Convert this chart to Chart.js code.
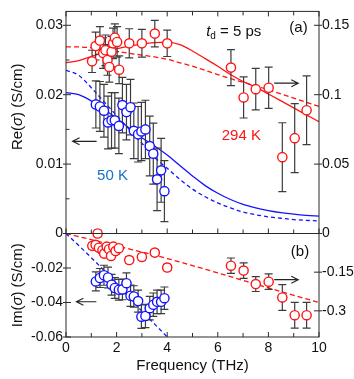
<!DOCTYPE html>
<html><head><meta charset="utf-8">
<script src="https://cdn.jsdelivr.net/npm/chart.js@4.4.0/dist/chart.umd.min.js"></script>
<style>
html,body{margin:0;padding:0;background:#fff;}
#wrap{position:relative;width:354px;height:379px;overflow:hidden;}
#wrap canvas{position:absolute;left:0;top:0;}
</style></head><body>
<div id="wrap"><canvas id="cTop" width="354" height="379"></canvas><canvas id="cBot" width="354" height="379"></canvas></div>
<script>
// ---------------- data ----------------
// (a) Re(sigma), 294 K  (right axis)
const fRe294   = [1.03,1.17,1.34,1.47,1.56,1.64,1.71,1.80,1.86,1.93,2.02,2.10,2.50,3.00,3.51,4.00,6.52,7.02,7.50,8.01,8.55,9.04,9.51];
const re294    = [0.124,0.135,0.139,0.130,0.132,0.125,0.120,0.131,0.137,0.141,0.138,0.118,0.137,0.137,0.144,0.137,0.1195,0.098,0.104,0.105,0.055,0.0687,0.0888];
const re294Err = [0.008,0.010,0.010,0.011,0.011,0.011,0.011,0.011,0.011,0.010,0.011,0.010,0.0105,0.010,0.0095,0.0095,0.013,0.0148,0.0149,0.0148,0.0248,0.0248,0.0248];
// (a) Re(sigma), 50 K (left axis)
const fRe50    = [1.18,1.34,1.50,1.66,1.80,1.93,2.09,2.23,2.39,2.55,2.68,2.85,2.98,3.14,3.31,3.45,3.60,3.76,3.89];
const re50     = [0.0186,0.0183,0.0177,0.0160,0.0163,0.0163,0.0155,0.0185,0.0175,0.0182,0.0148,0.0143,0.0147,0.0150,0.0126,0.0115,0.0078,0.0091,0.0061];
const re50Err  = [0.0034,0.0036,0.0038,0.0038,0.0040,0.0040,0.0040,0.0040,0.0040,0.0040,0.0040,0.0040,0.0042,0.0042,0.0043,0.0044,0.0045,0.0046,0.0044];
// (b) Im(sigma), 294 K (right axis)
const fIm294   = [1.04,1.17,1.25,1.30,1.44,1.51,1.61,1.70,1.78,1.87,1.96,2.09,2.50,3.00,3.51,4.00,6.52,7.02,7.50,8.01,8.55,9.04,9.51];
const im294    = [-0.048,-0.044,0.0,-0.055,-0.065,-0.078,-0.051,-0.061,-0.087,-0.051,-0.068,-0.057,-0.103,-0.091,-0.074,-0.132,-0.125,-0.144,-0.196,-0.187,-0.248,-0.317,-0.317];
const im294Err = [0.012,0.012,0.012,0.012,0.012,0.012,0.012,0.012,0.012,0.012,0.012,0.012,0.012,0.012,0.012,0.012,0.030,0.030,0.029,0.030,0.050,0.050,0.050];
// (b) Im(sigma), 50 K (left axis)
const fIm50    = [1.18,1.34,1.50,1.66,1.80,1.93,2.09,2.23,2.39,2.55,2.68,2.85,2.98,3.14,3.31,3.45,3.60,3.76,3.89];
const im50     = [-0.0278,-0.0258,-0.0242,-0.0255,-0.0297,-0.0316,-0.0326,-0.0324,-0.0288,-0.0361,-0.0365,-0.0392,-0.0482,-0.0478,-0.0433,-0.0413,-0.0396,-0.0396,-0.0375];
const im50Err  = [0.0055,0.0055,0.0058,0.0060,0.0060,0.0060,0.0060,0.0060,0.0060,0.0062,0.0062,0.0064,0.0068,0.0068,0.0068,0.0068,0.0068,0.0068,0.0065];
// model curves
const fCurve       = [0,0.5,1,1.5,2,2.5,3,3.5,4,4.5,5,5.5,6,6.5,7,7.5,8,8.5,9,9.5,10];
const re50Solid    = [0.0203,0.0200,0.0191,0.0179,0.0166,0.0152,0.0138,0.0126,0.0113,0.0098,0.0083,0.0069,0.0058,0.0049,0.0042,0.0037,0.0033,0.0030,0.0028,0.0026,0.0025];
const re50Dash     = [0.0235,0.0228,0.0210,0.0190,0.0170,0.0150,0.0130,0.0110,0.0094,0.0078,0.0064,0.0053,0.0044,0.0037,0.0031,0.0027,0.0024,0.0022,0.0020,0.0019,0.0018];
const re294Solid   = [0.123,0.1245,0.1275,0.1305,0.133,0.135,0.1365,0.1375,0.1378,0.136,0.1315,0.126,0.1205,0.1145,0.1095,0.1055,0.1005,0.0955,0.0905,0.0855,0.0805];
const re294Dash    = [0.1345,0.1344,0.1338,0.1327,0.1312,0.1298,0.1285,0.1272,0.1255,0.1230,0.1205,0.1175,0.1145,0.1115,0.1090,0.1063,0.1035,0.1005,0.0975,0.0945,0.0916];
const fImCurve     = [0,2,4,6,8,10];
const im294Dash    = [0,-0.048,-0.097,-0.153,-0.211,-0.268];
const fIm50Curve   = [0,1,2,3,4,4.5];
const im50Dash     = [0,-0.014,-0.029,-0.045,-0.060,-0.068];
// tick values / labels
const xTickValues    = [0,1,2,3,4,5,6,7,8,9,10];
const xTickLabels    = ['0','','2','','4','','6','','8','','10'];
const reLeftTicks    = [0,0.005,0.01,0.015,0.02,0.025,0.03];
const reLeftLabels   = ['','','0.01','','0.02','','0.03'];
const reRightTicks   = [0,0.05,0.1,0.15];
const reRightLabels  = ['','0.05','0.1','0.15'];
const imLeftTicks    = [-0.06,-0.04,-0.02,0];
const imLeftLabels   = ['-0.06','-0.04','-0.02','0'];
const imRightTicks   = [-0.3,-0.15,0];
const imRightLabels  = ['-0.3','-0.15','0'];

// ---------------- styles ----------------
const FONT = '"Liberation Sans", Arial, Helvetica, sans-serif';
const RED = '#ff1414', BLUE = '#1414ff', LBLUE = '#1870c8', BAR = '#3c3c3c', AXIS = '#2a2a2a', TXT = '#111';

function pts(xs, ys){ return xs.map((x,i)=>({x:x, y:ys[i]})); }

const errorBarPlugin = {
  id:'errbars',
  beforeDatasetDraw(chart, args){
    const ds = chart.data.datasets[args.index];
    if(!ds.errors) return;
    const ctx = chart.ctx, xs = chart.scales.x, ys = chart.scales[ds.yAxisID];
    ctx.save(); ctx.strokeStyle = BAR; ctx.lineWidth = 1.2;
    ds.data.forEach((p,i)=>{
      const e = ds.errors[i];
      const px = xs.getPixelForValue(p.x);
      const y1 = ys.getPixelForValue(p.y+e), y2 = ys.getPixelForValue(p.y-e);
      ctx.beginPath();
      ctx.moveTo(px,y1); ctx.lineTo(px,y2);
      ctx.moveTo(px-4,y1); ctx.lineTo(px+4,y1);
      ctx.moveTo(px-4,y2); ctx.lineTo(px+4,y2);
      ctx.stroke();
    });
    ctx.restore();
  }
};

function drawRich(ctx, parts, x, y, align){
  let w = 0;
  parts.forEach(p=>{ ctx.font = (p.italic?'italic ':'') + p.size + 'px ' + FONT; p.w = ctx.measureText(p.t).width; w += p.w; });
  let cx = align==='center' ? x - w/2 : x;
  parts.forEach(p=>{ ctx.font = (p.italic?'italic ':'') + p.size + 'px ' + FONT; ctx.fillText(p.t, cx, y + (p.dy||0)); cx += p.w; });
}
function arrow(ctx, x1, x2, y, headAtLeft){
  ctx.save(); ctx.strokeStyle = '#222'; ctx.lineWidth = 1.1;
  ctx.beginPath(); ctx.moveTo(x1,y); ctx.lineTo(x2,y);
  const hx = headAtLeft ? Math.min(x1,x2) : Math.max(x1,x2);
  const d = headAtLeft ? 7 : -7;
  ctx.moveTo(hx+d, y-3.5); ctx.lineTo(hx, y); ctx.lineTo(hx+d, y+3.5);
  ctx.stroke(); ctx.restore();
}

function framePlugin(opt){
  return { id:'frame', afterDraw(chart){
    const ctx = chart.ctx, a = chart.chartArea, x = chart.scales.x, yl = chart.scales.yL, yr = chart.scales.yR;
    ctx.save(); ctx.strokeStyle = AXIS; ctx.lineWidth = 1;
    ctx.strokeRect(a.left, a.top, a.right-a.left, a.bottom-a.top);
    ctx.beginPath();
    xTickValues.forEach((v,i)=>{
      const px = x.getPixelForValue(v); const L = xTickLabels[i] ? 5 : 4;
      if(opt.xTop){ ctx.moveTo(px,a.top); ctx.lineTo(px,a.top+L); }
      ctx.moveTo(px,a.bottom); ctx.lineTo(px,a.bottom-L);
    });
    opt.lTicks.forEach((v,i)=>{
      const py = yl.getPixelForValue(v); const major = opt.lLabels[i] !== '' || v===0;
      ctx.moveTo(a.left-(major?3:0),py); ctx.lineTo(a.left+(major?5:3.5),py);
    });
    opt.rTicks.forEach((v)=>{
      const py = yr.getPixelForValue(v);
      ctx.moveTo(a.right-5,py); ctx.lineTo(a.right+3,py);
    });
    ctx.stroke(); ctx.restore();
    opt.annotate(chart, ctx);
  }};
}

function yScale(pos, min, max, ticks, labels, width, show0){
  return {
    type:'linear', position:pos, min:min, max:max,
    grid:{display:false, drawTicks:false}, border:{display:false},
    afterBuildTicks(s){ s.ticks = ticks.map(v=>({value:v})); },
    afterFit(s){ s.width = width; },
    ticks:{ autoSkip:false, padding:3, color:TXT, font:{family:FONT, size:14},
      callback:(v,i)=> labels[i] }
  };
}

const scatterDs = (xs, ys, errs, color, axis, extra) => Object.assign({
  type:'scatter', data:pts(xs,ys), errors:errs, yAxisID:axis,
  pointRadius:4.6, pointHoverRadius:4.6, pointBorderWidth:1.4,
  borderColor:color, backgroundColor:'#fff', pointBackgroundColor:'#fff', order:1
}, extra||{});
const lineDs = (xs, ys, color, axis, dash) => ({
  type:'scatter', data:pts(xs,ys), yAxisID:axis, showLine:true, pointRadius:0,
  borderColor:color, borderWidth:1.3, borderDash:dash||[], cubicInterpolationMode:'monotone', order:2
});

const common = {
  responsive:false, animation:false, events:[],
  plugins:{legend:{display:false}, tooltip:{enabled:false}}
};

// ---------------- top chart (a) ----------------
new Chart(document.getElementById('cTop'), {
  type:'scatter',
  data:{ datasets:[
    lineDs(fCurve, re50Solid, BLUE, 'yL'),
    lineDs(fCurve, re50Dash, BLUE, 'yL', [4,3]),
    lineDs(fCurve, re294Solid, RED, 'yR'),
    lineDs(fCurve, re294Dash, RED, 'yR', [5,3]),
    scatterDs(fRe50, re50, re50Err, BLUE, 'yL'),
    scatterDs(fRe294, re294, re294Err, RED, 'yR')
  ]},
  options: Object.assign({}, common, {
    layout:{padding:{left:0,right:0,top:8,bottom:145.5}},
    scales:{
      x:{type:'linear', min:0, max:10, display:false},
      yL: yScale('left', 0, 0.0320, reLeftTicks, reLeftLabels, 66),
      yR: yScale('right', 0, 0.160, reRightTicks, reRightLabels, 35)
    }
  }),
  plugins:[errorBarPlugin, framePlugin({xTop:true, lTicks:reLeftTicks, lLabels:reLeftLabels, rTicks:reRightTicks,
    annotate(chart, ctx){
      const x = chart.scales.x, yl = chart.scales.yL, yr = chart.scales.yR, a = chart.chartArea;
      ctx.save(); ctx.textBaseline = 'middle'; ctx.fillStyle = TXT;
      drawRich(ctx, [{t:'t', italic:true, size:15},{t:'d', size:10, dy:4},{t:' = 5 ps', size:15}], x.getPixelForValue(5.54), yl.getPixelForValue(0.0290), 'left');
      drawRich(ctx, [{t:'(a)', size:15}], x.getPixelForValue(9.19), yl.getPixelForValue(0.0296), 'center');
      ctx.fillStyle = RED;
      drawRich(ctx, [{t:'294 K', size:15}], x.getPixelForValue(6.93), yr.getPixelForValue(0.070), 'center');
      ctx.fillStyle = LBLUE;
      drawRich(ctx, [{t:'50 K', size:15}], x.getPixelForValue(1.84), yl.getPixelForValue(0.0083), 'center');
      arrow(ctx, x.getPixelForValue(0.26), x.getPixelForValue(1.21), yl.getPixelForValue(0.01328), true);
      arrow(ctx, x.getPixelForValue(8.23), x.getPixelForValue(9.18), yr.getPixelForValue(0.1083), false);
      ctx.fillStyle = TXT;
      ctx.translate(a.left-48, yl.getPixelForValue(0.01825)); ctx.rotate(-Math.PI/2);
      drawRich(ctx, [{t:'Re(', size:15},{t:'σ', italic:true, size:15},{t:') (S/cm)', size:15}], 0, 0, 'center');
      ctx.restore();
    }})]
});

// ---------------- bottom chart (b) ----------------
new Chart(document.getElementById('cBot'), {
  type:'scatter',
  data:{ datasets:[
    lineDs(fIm50Curve, im50Dash, BLUE, 'yL', [4,3]),
    lineDs(fImCurve, im294Dash, RED, 'yR', [5,3]),
    scatterDs(fIm50, im50, im50Err, BLUE, 'yL'),
    scatterDs(fIm294, im294, im294Err, RED, 'yR', {clip:false})
  ]},
  options: Object.assign({}, common, {
    layout:{padding:{left:0,right:0,top:233.5,bottom:0}},
    scales:{
      x:{type:'linear', position:'bottom', min:0, max:10,
        grid:{display:false, drawTicks:false}, border:{display:false},
        afterBuildTicks(s){ s.ticks = xTickValues.map(v=>({value:v})); },
        afterFit(s){ s.height = 42; },
        ticks:{autoSkip:false, maxRotation:0, padding:3, color:TXT, font:{family:FONT, size:14}, callback:(v,i)=>xTickLabels[i]},
        title:{display:true, text:'Frequency (THz)', color:TXT, font:{family:FONT, size:15}, padding:{top:0,bottom:4}}
      },
      yL: yScale('left', -0.06, 0, imLeftTicks, imLeftLabels, 66),
      yR: yScale('right', -0.4015, 0, imRightTicks, imRightLabels, 35)
    }
  }),
  plugins:[errorBarPlugin, framePlugin({xTop:false, lTicks:imLeftTicks, lLabels:imLeftLabels, rTicks:imRightTicks,
    annotate(chart, ctx){
      const x = chart.scales.x, yl = chart.scales.yL, yr = chart.scales.yR, a = chart.chartArea;
      ctx.save(); ctx.textBaseline = 'middle'; ctx.fillStyle = TXT;
      drawRich(ctx, [{t:'(b)', size:15}], x.getPixelForValue(9.25), yl.getPixelForValue(-0.0107), 'center');
      arrow(ctx, x.getPixelForValue(0.41), x.getPixelForValue(1.20), yl.getPixelForValue(-0.0396), true);
      arrow(ctx, x.getPixelForValue(8.23), x.getPixelForValue(9.18), yr.getPixelForValue(-0.179), false);
      ctx.translate(a.left-48, (a.top+a.bottom)/2); ctx.rotate(-Math.PI/2);
      drawRich(ctx, [{t:'Im(', size:15},{t:'σ', italic:true, size:15},{t:') (S/cm)', size:15}], 0, 0, 'center');
      ctx.restore();
    }})]
});
</script>
</body></html>
